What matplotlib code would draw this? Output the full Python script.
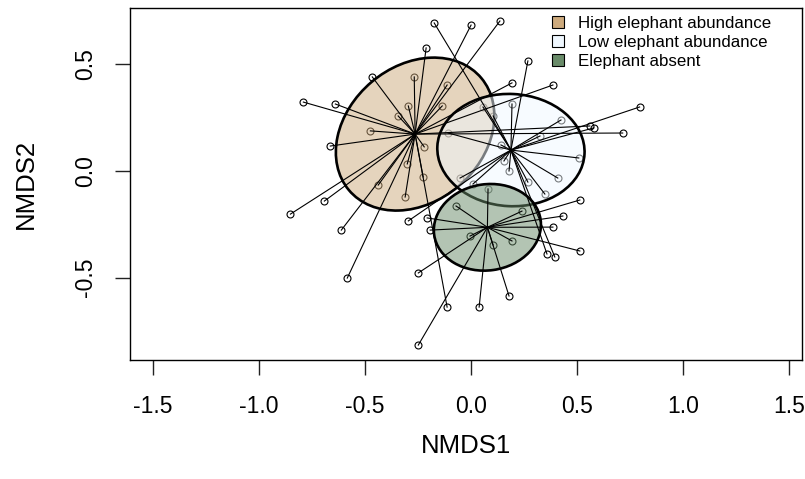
import matplotlib
matplotlib.use('Agg')
import matplotlib.pyplot as plt
from matplotlib.patches import Ellipse, Patch

plt.rcParams['font.family'] = ['Liberation Sans', 'DejaVu Sans']

# group names as in the legend
groups = ["High elephant abundance", "Low elephant abundance", "Elephant absent"]
colours = ["#CDAA7D", "#F0F8FF", "#698B69"]

# site scores (NMDS1, NMDS2)
high_x = [0.000, 0.136, -0.212, 0.193, 0.386, -0.466, -0.791, -0.640, -0.664, -0.692,
          -0.852, -0.612, -0.584, -0.113, 0.715, 0.560,
          -0.268, -0.296, -0.344, -0.475, -0.113, -0.136, -0.221, -0.301, -0.226, -0.438, -0.311]
high_y = [0.684, 0.703, 0.577, 0.413, 0.403, 0.441, 0.323, 0.314, 0.117, -0.141,
          -0.202, -0.277, -0.502, -0.638, 0.178, 0.211,
          0.441, 0.305, 0.258, 0.188, 0.403, 0.305, 0.113, 0.033, -0.028, -0.066, -0.122]

low_x = [-0.174, 0.268, 0.795, 0.579, -0.296, 0.358, 0.395,
         0.424, 0.325, 0.508, 0.409, 0.268, 0.179, 0.155, 0.141, 0.193, 0.104, 0.056,
         -0.108, 0.348, -0.052, 0.009]
low_y = [0.694, 0.516, 0.300, 0.202, -0.234, -0.389, -0.403,
         0.239, 0.164, 0.061, -0.033, -0.052, 0.000, 0.047, 0.122, 0.314, 0.258, 0.300,
         0.178, -0.108, -0.033, -0.061]

absent_x = [-0.249, -0.249, -0.193, -0.207, 0.179, 0.038, 0.513, 0.433, 0.386, 0.513,
            -0.071, 0.080, 0.240, -0.005, 0.104, 0.193]
absent_y = [-0.478, -0.816, -0.277, -0.220, -0.586, -0.638, -0.136, -0.211, -0.263, -0.375,
            -0.164, -0.084, -0.188, -0.305, -0.347, -0.328]

# group centroids (spider centres) and ellipse sizes
cent_x = [-0.264, 0.188, 0.077]
cent_y = [0.173, 0.098, -0.264]
ell_w = [0.816, 0.695, 0.507]
ell_h = [0.638, 0.526, 0.404]
ell_angle = [40, -3, 8]

xs = [high_x, low_x, absent_x]
ys = [high_y, low_y, absent_y]

fig = plt.figure(figsize=(8.05, 4.79), dpi=100)
ax = fig.add_axes([0.1609, 0.2484, 0.8354, 0.7349])

# points first, ellipses over them, spiders on top
for g in range(3):
    ax.plot(xs[g], ys[g], 'o', mfc='none', mec='black', ms=5, mew=0.8, zorder=1)

for g in range(3):
    e = Ellipse((cent_x[g], cent_y[g]), ell_w[g], ell_h[g], angle=ell_angle[g],
                facecolor=matplotlib.colors.to_rgba(colours[g], 0.5),
                edgecolor='black', lw=1.9, zorder=2)
    ax.add_patch(e)

for g in range(3):
    for px, py in zip(xs[g], ys[g]):
        ax.plot([cent_x[g], px], [cent_y[g], py], color='black', lw=0.8, zorder=3)

ax.set_xlim(-1.611, 1.561)
ax.set_ylim(-0.886, 0.764)
ax.set_xticks([-1.5, -1.0, -0.5, 0.0, 0.5, 1.0, 1.5])
ax.set_xticklabels(["-1.5", "-1.0", "-0.5", "0.0", "0.5", "1.0", "1.5"])
ax.set_yticks([-0.5, 0.0, 0.5])
ax.set_yticklabels(["-0.5", "0.0", "0.5"], rotation=90, va='center')
ax.tick_params(length=10.5, width=1, labelsize=16.5, color='#222222')
ax.tick_params(axis='x', pad=15)
ax.tick_params(axis='y', pad=13)
for s in ax.spines.values():
    s.set_linewidth(1)
ax.set_xlabel("NMDS1", fontsize=18.5, labelpad=11)
ax.set_ylabel("NMDS2", fontsize=18.5, labelpad=26)

handles = [Patch(facecolor=c, edgecolor='black', lw=0.8) for c in colours]
ax.legend(handles, groups, loc='upper left', bbox_to_anchor=(0.6076, 1.016), frameon=False,
          fontsize=12.2, handlelength=0.75, handleheight=0.75, handletextpad=0.8,
          labelspacing=0.22, borderpad=0.3)

plt.savefig('out.png', dpi=100)
